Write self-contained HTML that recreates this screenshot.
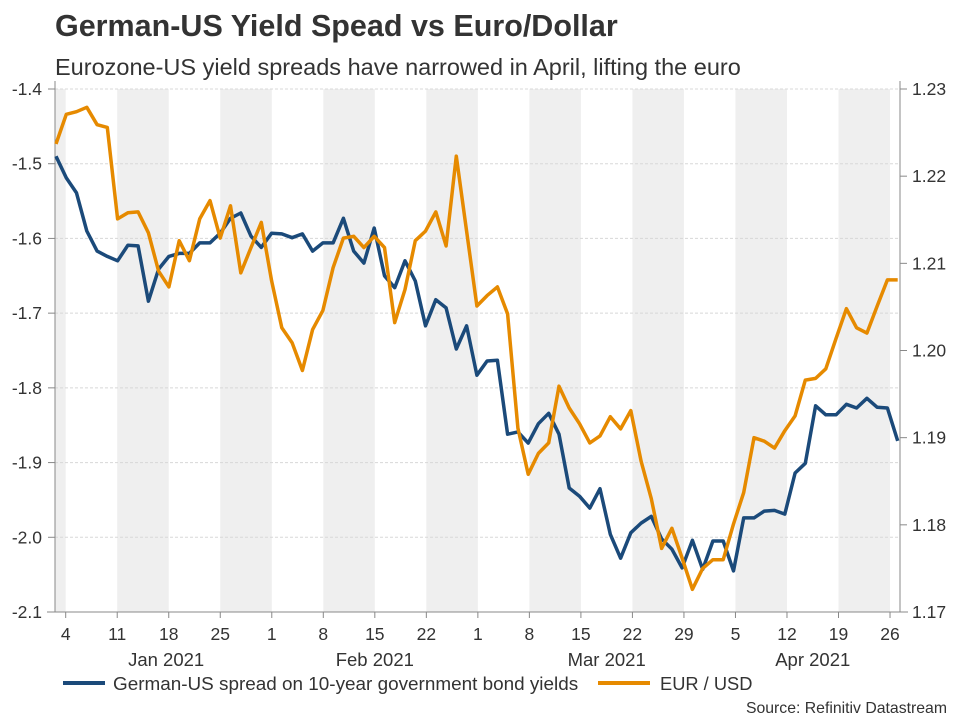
<!DOCTYPE html>
<html><head><meta charset="utf-8"><style>
body{margin:0;background:#fff;width:960px;height:720px;overflow:hidden;font-family:"Liberation Sans",Arial,sans-serif}
svg text{font-family:"Liberation Sans",Arial,sans-serif}
</style></head><body>
<svg id="chart" width="960" height="720" viewBox="0 0 960 720">
<text x="55" y="36" font-size="30.5" font-weight="bold" fill="#333">German-US Yield Spead vs Euro/Dollar</text>
<text x="55" y="75" font-size="23.5" fill="#333">Eurozone-US yield spreads have narrowed in April, lifting the euro</text>
<g id="bands"></g><g id="grid"></g><g id="axes"></g><g id="series"></g>
<g>
<line x1="63" y1="683" x2="105" y2="683" stroke="#1b4a7a" stroke-width="4"/>
<text x="113" y="690" font-size="18.9" fill="#333">German-US spread on 10-year government bond yields</text>
<line x1="598" y1="683" x2="650" y2="683" stroke="#e68a00" stroke-width="4"/>
<text x="660" y="690" font-size="18.3" fill="#333">EUR / USD</text>
</g>
<text x="947" y="713" font-size="15.8" fill="#333" text-anchor="end">Source: Refinitiv Datastream</text>
</svg>
<script>
const spreadValues=[-1.490,-1.519,-1.539,-1.590,-1.617,-1.624,-1.630,-1.609,-1.610,-1.684,-1.641,-1.624,-1.620,-1.620,-1.606,-1.606,-1.593,-1.573,-1.566,-1.597,-1.612,-1.593,-1.594,-1.599,-1.594,-1.617,-1.606,-1.606,-1.573,-1.617,-1.633,-1.586,-1.650,-1.666,-1.630,-1.657,-1.717,-1.682,-1.693,-1.748,-1.717,-1.783,-1.764,-1.763,-1.862,-1.859,-1.874,-1.848,-1.834,-1.862,-1.934,-1.945,-1.961,-1.935,-1.996,-2.028,-1.994,-1.981,-1.972,-2.002,-2.016,-2.041,-2.004,-2.043,-2.005,-2.005,-2.045,-1.974,-1.974,-1.965,-1.964,-1.969,-1.914,-1.901,-1.824,-1.836,-1.836,-1.822,-1.827,-1.814,-1.826,-1.827,-1.871];
const eurusdValues=[1.2237,1.2271,1.2274,1.2279,1.2259,1.2256,1.2151,1.2158,1.2159,1.2135,1.2091,1.2073,1.2126,1.2103,1.2151,1.2172,1.2129,1.2166,1.2089,1.2118,1.2147,1.2080,1.2026,1.2009,1.1977,1.2024,1.2046,1.2095,1.2129,1.2131,1.2118,1.2131,1.2118,1.2032,1.2070,1.2126,1.2137,1.2159,1.2120,1.2223,1.2137,1.2051,1.2063,1.2073,1.2042,1.1911,1.1858,1.1882,1.1894,1.1959,1.1934,1.1916,1.1894,1.1902,1.1924,1.1910,1.1931,1.1873,1.1830,1.1773,1.1796,1.1762,1.1726,1.1750,1.1760,1.1760,1.1801,1.1837,1.1900,1.1896,1.1888,1.1908,1.1925,1.1966,1.1968,1.1979,1.2014,1.2048,1.2026,1.2020,1.2051,1.2081,1.2081];
const leftTicks=[-1.4,-1.5,-1.6,-1.7,-1.8,-1.9,-2.0,-2.1];
const rightTicks=[1.17,1.18,1.19,1.20,1.21,1.22,1.23];
const weekLabels=["4","11","18","25","1","8","15","22","1","8","15","22","29","5","12","19","26"];
const monthLabels=["Jan 2021","Feb 2021","Mar 2021","Apr 2021"];
const monthCenterWeek=[1.95,6,10.5,14.5];

const NS="http://www.w3.org/2000/svg";
const X0=55,X1=900,Y0=89,Y1=612;
function yL(v){return Y0+(-1.4-v)/0.7*(Y1-Y0);}
function yR(v){return Y0+(1.23-v)/0.06*(Y1-Y0);}
function xIdx(i,n){return 56+i*(841.7/(n-1));}
function xWeek(k){return 65.7+k*51.52;}
function mk(tag,attrs,parent){const e=document.createElementNS(NS,tag);for(const k in attrs)e.setAttribute(k,attrs[k]);parent.appendChild(e);return e;}
const bands=document.getElementById('bands'),grid=document.getElementById('grid'),axes=document.getElementById('axes'),series=document.getElementById('series');

let b=mk('rect',{x:X0,y:Y0,width:xWeek(0)-X0,height:Y1-Y0,fill:'#efefef'},bands);


for(let k=1;k<weekLabels.length-1;k+=2){
  const r=mk('rect',{x:xWeek(k),y:Y0,width:xWeek(k+1)-xWeek(k),height:Y1-Y0,fill:'#efefef'},bands);
  
  
}
leftTicks.forEach(v=>{
  const y=yL(v);
  if(v>-2.1){const g=mk('line',{x1:X0,x2:X1,y1:y,y2:y,stroke:'#d8d8d8','stroke-dasharray':'3,2','stroke-width':1},grid);
  
  }
  const t=mk('line',{x1:48,x2:X0,y1:y,y2:y,stroke:'#888'},axes);
  
  
  const tx=mk('text',{x:42,y:y+6,'font-size':17.5,fill:'#333','text-anchor':'end'},axes);
  tx.textContent=v.toFixed(1);
  
  
});
rightTicks.forEach(v=>{
  const y=yR(v);
  const t=mk('line',{x1:X1,x2:907,y1:y,y2:y,stroke:'#888'},axes);
  
  
  const tx=mk('text',{x:912,y:y+6,'font-size':17.5,fill:'#333'},axes);
  tx.textContent=v.toFixed(2);
  
  
});
weekLabels.forEach((l,k)=>{
  const x=xWeek(k);
  const t=mk('line',{x1:x,x2:x,y1:Y1,y2:Y1+6,stroke:'#888'},axes);
  
  
  const tx=mk('text',{x:x,y:Y1+28,'font-size':17.5,fill:'#333','text-anchor':'middle'},axes);
  tx.textContent=l;
  
  
});
monthLabels.forEach((l,j)=>{
  const tx=mk('text',{x:xWeek(monthCenterWeek[j]),y:666,'font-size':18.5,fill:'#333','text-anchor':'middle'},axes);
  tx.textContent=l;
  
  
});
let a=mk('line',{x1:X0,x2:X0,y1:Y0-8,y2:Y1,stroke:'#888'},axes);


a=mk('line',{x1:X1,x2:X1,y1:Y0-8,y2:Y1,stroke:'#888'},axes);


a=mk('line',{x1:X0-8,x2:X1+8,y1:Y1,y2:Y1,stroke:'#888'},axes);



const pb=spreadValues.map((v,i)=>xIdx(i,spreadValues.length).toFixed(1)+','+yL(v).toFixed(1)).join(' ');
const lb=mk('polyline',{points:pb,fill:'none',stroke:'#1b4a7a','stroke-width':3.5,'stroke-linejoin':'round'},series);


const po=eurusdValues.map((v,i)=>xIdx(i,eurusdValues.length).toFixed(1)+','+yR(v).toFixed(1)).join(' ');
const lo=mk('polyline',{points:po,fill:'none',stroke:'#e68a00','stroke-width':3.5,'stroke-linejoin':'round'},series);


</script>
</body></html>
